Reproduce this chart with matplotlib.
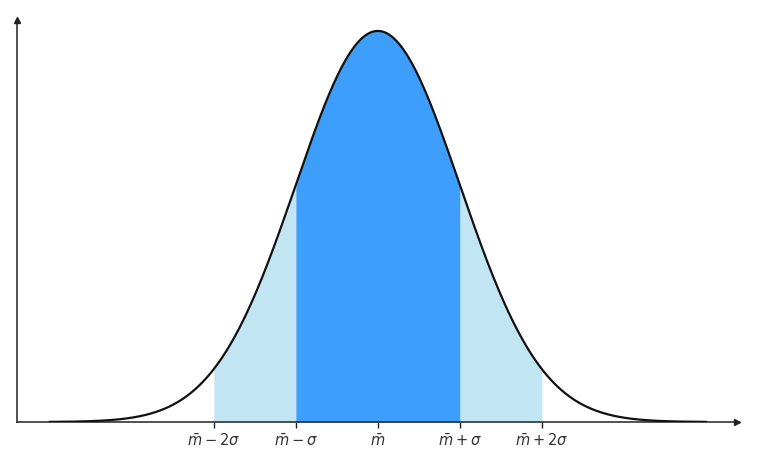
import numpy as np
import matplotlib

matplotlib.use("Agg")
import matplotlib.pyplot as plt

# data: standard normal in sigma units
tick_pos = [-2, -1, 0, 1, 2]
tick_labels = [r"$\bar{m}-2\sigma$", r"$\bar{m}-\sigma$", r"$\bar{m}$",
               r"$\bar{m}+\sigma$", r"$\bar{m}+2\sigma$"]
inner_band = (-1, 1)
outer_bands = [(-2, -1), (1, 2)]
curve_range = (-4, 4)

DARK = "#3d9efc"
LIGHT = "#c2e5f3"
AXIS = "#222222"


def pdf(x):
    return np.exp(-0.5 * x ** 2) / np.sqrt(2 * np.pi)


fig = plt.figure(figsize=(7.66, 4.52), dpi=100)
ax = fig.add_axes([17 / 766, 29 / 452, 720 / 766, 402 / 452])

x = np.linspace(curve_range[0], curve_range[1], 600)
ax.plot(x, pdf(x), color="#111111", linewidth=1.6, zorder=3)

xi = np.linspace(inner_band[0], inner_band[1], 200)
ax.fill_between(xi, 0, pdf(xi), color=DARK, linewidth=0, zorder=2)
for a, b in outer_bands:
    xo = np.linspace(a, b, 100)
    ax.fill_between(xo, 0, pdf(xo), color=LIGHT, linewidth=0, zorder=1)

# 82 px per sigma, mean at 378 px
ax.set_xlim(-4.40, 4.38)
ax.set_ylim(0, 0.4101)

for side in ["top", "right"]:
    ax.spines[side].set_visible(False)
for side in ["left", "bottom"]:
    ax.spines[side].set_color(AXIS)
    ax.spines[side].set_linewidth(1.1)

# arrow heads on the axes
ax.plot(1, 0, ">", color=AXIS, markersize=4, transform=ax.transAxes, clip_on=False)
ax.plot(0, 1, "^", color=AXIS, markersize=4, transform=ax.transAxes, clip_on=False)

ax.set_xticks(tick_pos)
ax.set_xticklabels(tick_labels, fontsize=10.5, color="#333333")
ax.tick_params(axis="x", length=4, width=1, color=AXIS, pad=3)
ax.set_yticks([])

fig.savefig("out.png", dpi=100)
